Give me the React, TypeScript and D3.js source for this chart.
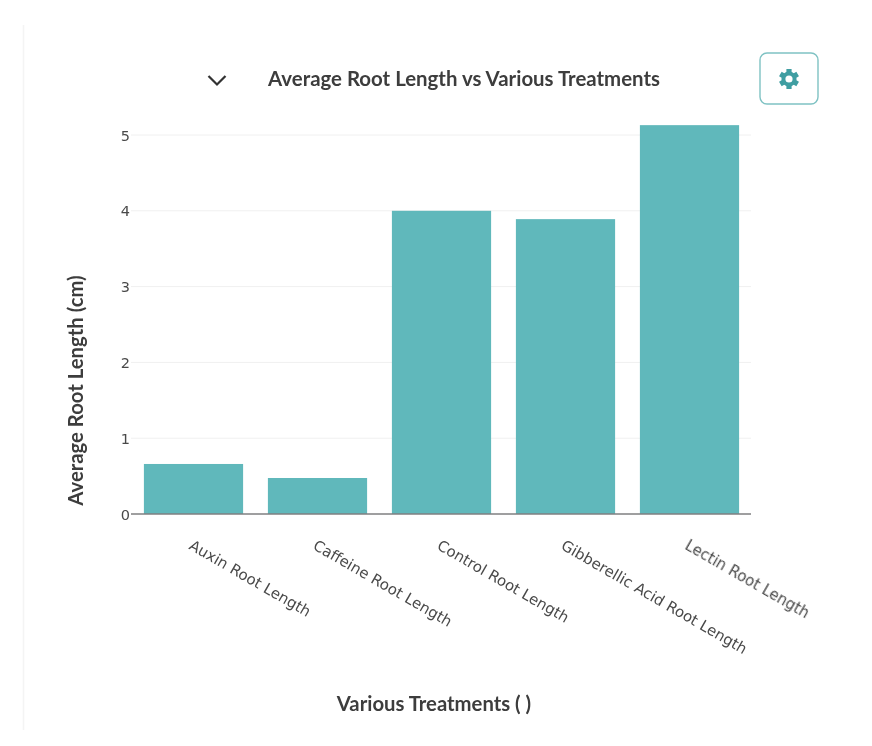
import React from "react";
import * as d3 from "d3";

const categories = ["Auxin Root Length", "Caffeine Root Length", "Control Root Length", "Gibberellic Acid Root Length", "Lectin Root Length"];
const values = [0.66, 0.475, 4.0, 3.89, 5.13];
const yTicks = [0, 1, 2, 3, 4, 5];
const titleText = "Average Root Length vs Various Treatments";
const xTitle = "Various Treatments ( )";
const yTitle = "Average Root Length (cm)";

const W = 872, H = 746;
const TEAL = "#61b8bb";

export default function App() {
  const x = d3.scaleBand<string>().domain(categories).range([131.5, 751.5]).paddingInner(0.2).paddingOuter(0.1);
  const y = d3.scaleLinear().domain([0, 5]).range([514, 135]);
  const gearTeeth = d3.range(6).map(i => i * 60);
  return (
    <svg width={W} height={H} viewBox={`0 0 ${W} ${H}`} style={{ position: "absolute", left: 0, top: 0, background: "#fff" }}>
      <defs>
        <filter id="soft" x="-5%" y="-5%" width="110%" height="110%">
          <feGaussianBlur stdDeviation="0.5" />
        </filter>
      </defs>
      <g filter="url(#soft)">
        <line x1={23.5} x2={23.5} y1={25} y2={730} stroke="#f4f4f4" strokeWidth={1.5} />
        {yTicks.slice(1).map(t => (
          <line key={t} x1={131} x2={751} y1={y(t)} y2={y(t)} stroke="#f0f0f0" strokeWidth={1} />
        ))}
        {categories.map((c, i) => (
          <rect key={c} x={x(c)} width={x.bandwidth()} y={y(values[i])} height={y(0) - y(values[i])} fill={TEAL} />
        ))}
        <line x1={131} x2={751} y1={y(0)} y2={y(0)} stroke="#7f7f80" strokeWidth={1.3} />
        {yTicks.map(t => (
          <text key={t} x={130} y={y(t) + 5.5} textAnchor="end" fontFamily="'DejaVu Sans', sans-serif" fontSize={14.5} fill="#4a4a4a">{t}</text>
        ))}
        {categories.map(c => (
          <text key={c} transform={`translate(${x(c)! + 46},${545}) rotate(30)`} y={4} fontFamily="'DejaVu Sans', sans-serif" fontSize={15} fill="#4a4a4a">{c}</text>
        ))}
        <text x={464} y={86} textAnchor="middle" fontFamily="Lato, sans-serif" fontWeight={700} fontSize={20.5} fill="#3c3c3c" textLength={392} lengthAdjust="spacingAndGlyphs">{titleText}</text>
        <text x={434} y={711} textAnchor="middle" fontFamily="Lato, sans-serif" fontWeight={700} fontSize={20.3} fill="#3c3c3c">{xTitle}</text>
        <text transform="translate(83,390.5) rotate(-90)" textAnchor="middle" fontFamily="Lato, sans-serif" fontWeight={700} fontSize={20.3} fill="#3c3c3c">{yTitle}</text>
        <path d="M208.5,76 L217,84.5 L225.5,76" fill="none" stroke="#333" strokeWidth={2.2} />
        <rect x={760} y={53} width={58} height={51} rx={7} fill="#fff" stroke="#7fc2c3" strokeWidth={1.4} />
        <g transform="translate(789,79)">
          {gearTeeth.map(a => (
            <rect key={a} x={-2.6} y={-10} width={5.2} height={5} fill="#3f9ea2" transform={`rotate(${a})`} />
          ))}
          <circle r={5.6} fill="none" stroke="#3f9ea2" strokeWidth={4} />
        </g>
      </g>
    </svg>
  );
}
